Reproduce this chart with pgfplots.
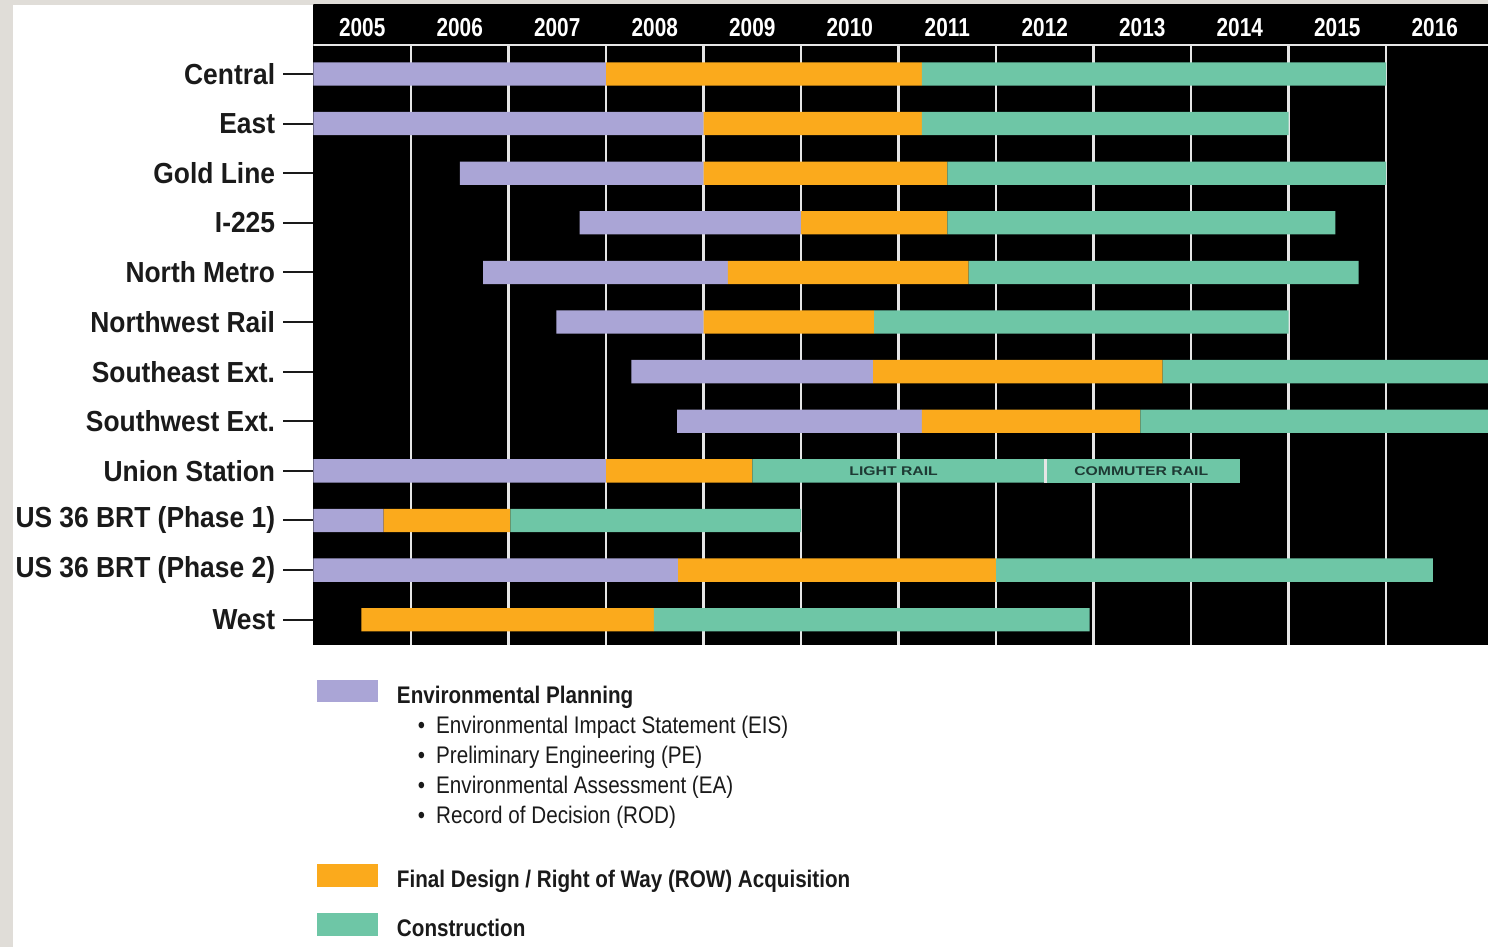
\documentclass[border=0pt]{standalone}
\usepackage{pgfplots}
\pgfplotsset{compat=1.18}
\usepackage{pgfplotstable}
\usepackage{fontspec}
\setmainfont{Liberation Sans}
\newfontfamily\ylab[FakeStretch=0.91]{Liberation Sans}
\newfontfamily\yearf[FakeStretch=0.80]{Liberation Sans}
\newfontfamily\legf[FakeStretch=0.86]{Liberation Sans}
\newfontfamily\barf[FakeStretch=1.25]{Liberation Sans}
\definecolor{envc}{HTML}{AAA5D6}
\definecolor{fdc}{HTML}{FBAA1C}
\definecolor{conc}{HTML}{6EC6A6}
\definecolor{framec}{HTML}{E0DDD8}
\definecolor{gridc}{HTML}{E6E6E6}
\definecolor{labc}{HTML}{1E3A34}
\definecolor{txt}{HTML}{1A1A1A}

% row start env fd con sep con2  (lengths in years, 0 = start of 2005)
\pgfplotstableread{
row start env fd con sep con2
0 0 3.00 3.24 4.76 0 0
1 0 4.00 2.24 3.76 0 0
2 1.50 2.50 2.50 4.50 0 0
3 2.73 2.27 1.50 3.98 0 0
4 1.74 2.51 2.47 4.00 0 0
5 2.49 1.51 1.75 4.25 0 0
6 3.26 2.48 2.97 3.40 0 0
7 3.73 2.51 2.24 3.60 0 0
8 0 3.00 1.50 2.99 0.03 1.98
9 0 0.72 1.30 2.98 0 0
10 0 3.74 3.26 4.48 0 0
11 0.49 0 3.00 4.47 0 0
}\bars

\newcommand\ls{\rule[-4pt]{0pt}{15pt}}
\newcommand\bul[1]{\ls\hspace*{10.5pt}\textbullet\hspace{5.5pt}#1}
\tikzset{yr/.style={font=\yearf\bfseries\fontsize{13}{15}\selectfont, text=white},
         bl/.style={font=\barf\bfseries\fontsize{6.3}{7}\selectfont, text=labc}}

\begin{document}
\begin{tikzpicture}
\useasboundingbox (0,0) rectangle (744pt,473.5pt);
\fill[framec] (0,0) rectangle (744pt,473.5pt);
\fill[white] (6.5pt,0) rectangle (744pt,471pt);
\clip (0,0) rectangle (744pt,473.5pt);
\begin{axis}[
  at={(156.75pt,151pt)}, anchor=south west,
  scale only axis, width=587.25pt, height=320pt,
  xmin=0, xmax=12.046, ymin=-1.39, ymax=11.51, y dir=reverse,
  xbar stacked, reverse stacked plots=false, bar width=0.47,
  axis background/.style={fill=black},
  axis line style={draw=none},
  xtick={1,...,11}, xticklabels={,,,,,,,,,,}, xtick style={draw=none},
  xmajorgrids, grid style={gridc, line width=1.2pt},
  ytick={0,...,11},
  yticklabels={Central,East,Gold Line,I-225,North Metro,Northwest Rail,Southeast Ext.,Southwest Ext.,Union Station,US 36 BRT (Phase 1),US 36 BRT (Phase 2),West},
  ytick pos=left,
  tick align=outside, major tick length=15pt,
  ytick style={draw=txt, line width=1pt},
  yticklabel style={font=\ylab\bfseries\fontsize{14.5}{17}\selectfont, text=txt, inner sep=0pt, xshift=-4pt},
  legend style={at={(0,0)}, anchor=north west, xshift=1.75pt, yshift=-17.5pt,
    draw=none, fill=none, inner sep=0pt, outer sep=0pt, row sep=0pt, column sep=9.5pt,
    nodes={inner sep=0pt, anchor=base west, text depth=},
    font=\legf\fontsize{12}{14}\selectfont, text=txt},
  legend cell align=left,
]
\fill[black] (axis cs:-0.1,-1.5) rectangle (axis cs:12.2,-0.6);
\draw[gridc, line width=1pt] (axis cs:0,-0.585) -- (axis cs:12.1,-0.585);
\node[yr] at (axis cs:0.5,-0.93) {2005};
\node[yr] at (axis cs:1.5,-0.93) {2006};
\node[yr] at (axis cs:2.5,-0.93) {2007};
\node[yr] at (axis cs:3.5,-0.93) {2008};
\node[yr] at (axis cs:4.5,-0.93) {2009};
\node[yr] at (axis cs:5.5,-0.93) {2010};
\node[yr] at (axis cs:6.5,-0.93) {2011};
\node[yr] at (axis cs:7.5,-0.93) {2012};
\node[yr] at (axis cs:8.5,-0.93) {2013};
\node[yr] at (axis cs:9.5,-0.93) {2014};
\node[yr] at (axis cs:10.5,-0.93) {2015};
\node[yr] at (axis cs:11.5,-0.93) {2016};

\addplot[draw=none, fill=none, forget plot] table[x=start, y=row]{\bars};
\addplot[draw=none, fill=envc, legend image code/.code={\fill[envc] (0pt,0.5pt) rectangle (30.5pt,11.5pt);}] table[x=env, y=row]{\bars};
\addlegendentry{\ls\textbf{Environmental Planning}}
\addlegendimage{empty legend}
\addlegendentry{\bul{Environmental Impact Statement (EIS)}}
\addlegendimage{empty legend}
\addlegendentry{\bul{Preliminary Engineering (PE)}}
\addlegendimage{empty legend}
\addlegendentry{\bul{Environmental Assessment (EA)}}
\addlegendimage{empty legend}
\addlegendentry{\bul{Record of Decision (ROD)}}
\addlegendimage{empty legend}
\addlegendentry{\rule[-4pt]{0pt}{16.5pt}}
\addplot[draw=none, fill=fdc, legend image code/.code={\fill[fdc] (0pt,0pt) rectangle (30.5pt,11.5pt);}] table[x=fd, y=row]{\bars};
\addlegendentry{\ls\textbf{Final Design / Right of Way (ROW) Acquisition}}
\addlegendimage{empty legend}
\addlegendentry{\rule[-2pt]{0pt}{9pt}}
\addplot[draw=none, fill=conc, legend image code/.code={\fill[conc] (0pt,0pt) rectangle (30.5pt,11.5pt);}] table[x=con, y=row]{\bars};
\addlegendentry{\ls\textbf{Construction}}
\addplot[draw=none, fill=gridc, forget plot] table[x=sep, y=row]{\bars};
\addplot[draw=none, fill=conc, forget plot] table[x=con2, y=row]{\bars};

\node[bl] at (axis cs:5.95,8) {LIGHT RAIL};
\node[bl] at (axis cs:8.49,8) {COMMUTER RAIL};
\end{axis}
\end{tikzpicture}
\end{document}
